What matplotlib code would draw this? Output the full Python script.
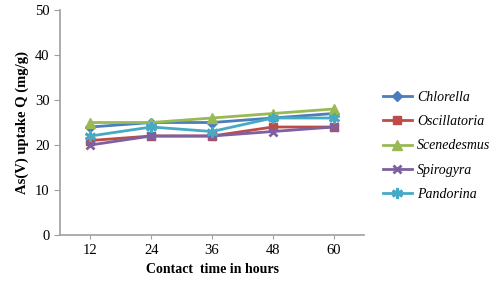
import numpy as np
import matplotlib.pyplot as plt

plt.rcParams['font.family'] = ['Liberation Serif', 'DejaVu Serif']

hours = ['12', '24', '36', '48', '60']
chlorella = [24, 25, 25, 26, 27]
oscillatoria = [21, 22, 22, 24, 24]
scenedesmus = [25, 25, 26, 27, 28]
spirogyra = [20, 22, 22, 23, 24]
pandorina = [22, 24, 23, 26, 26]

series = [
    ('Chlorella', chlorella, '#4A7EBB', 'D', 5),
    ('Oscillatoria', oscillatoria, '#BE4B48', 's', 6),
    ('Scenedesmus', scenedesmus, '#98B954', '^', 7),
    ('Spirogyra', spirogyra, '#7D60A0', 'x', 6),
    ('Pandorina', pandorina, '#46AAC5', (6, 2, 0), 8),
]

fig = plt.figure(figsize=(5.0, 2.85), dpi=100)
ax = fig.add_axes([0.12, 0.1754, 0.608, 0.7895])

x = np.arange(len(hours))
for name, vals, col, mk, ms in series:
    ax.plot(x, vals, color=col, marker=mk, markersize=ms, linewidth=2,
            markeredgewidth=2 if mk in ('x', (6, 2, 0)) else 1,
            markeredgecolor=col, label=name)

ax.set_xlim(-0.5, 4.5)
ax.set_ylim(0, 50)
ax.set_xticks(x)
ax.set_xticklabels(hours)
ax.set_yticks(range(0, 51, 10))
for s in ['top', 'right']:
    ax.spines[s].set_visible(False)
for s in ['left', 'bottom']:
    ax.spines[s].set_color('#a0a0a0')
    ax.spines[s].set_linewidth(1.2)
ax.tick_params(axis='both', colors='#a0a0a0', labelcolor='black', labelsize=10.5, length=4)
ax.tick_params(axis='x', length=3)

ax.set_xlabel('Contact  time in hours', fontsize=10, fontweight='bold', labelpad=4)
ax.set_ylabel('As(V) uptake Q (mg/g)', fontsize=10.5, fontweight='bold', labelpad=4)

# legend sits to the right, no frame
ax.legend(loc='center left', bbox_to_anchor=(1.02, 0.396), frameon=False,
          prop={'style': 'italic', 'size': 10}, handlelength=2.1,
          labelspacing=0.8, handletextpad=0.4)

fig.savefig('out.png', dpi=100)
